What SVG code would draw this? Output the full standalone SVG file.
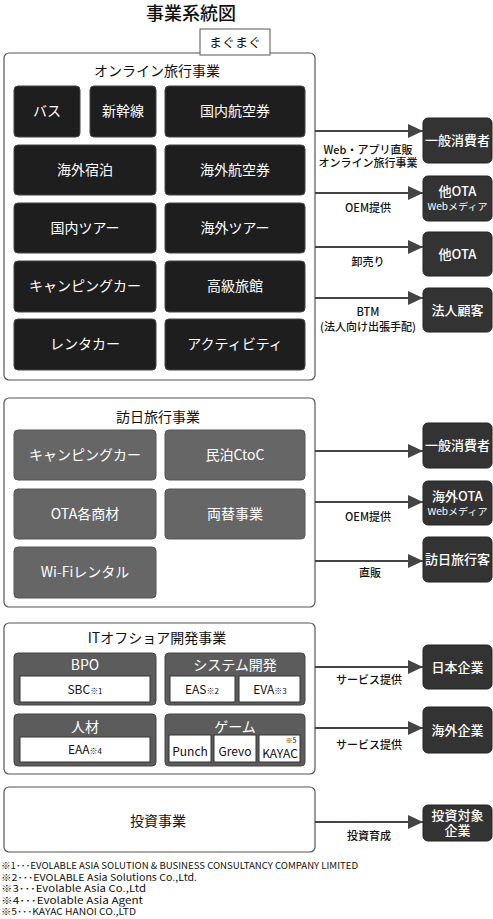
<svg xmlns="http://www.w3.org/2000/svg" width="493" height="919" viewBox="0 0 493 919">
<defs>
<style>
text{font-family:"Noto Sans CJK JP","Noto Sans",sans-serif;}
.sec{fill:#fff;stroke:#555;stroke-width:1.2;}
.dk{fill:#1e1e1e;stroke:#444;stroke-width:1;}
.gr{fill:#666;stroke:#555;stroke-width:1;}
.it{fill:#5c5c5c;stroke:#444;stroke-width:1;}
.wb{fill:#fff;stroke:#333;stroke-width:1;}
.nd{fill:#333;stroke:#222;stroke-width:1;}
.bt{fill:#fff;font-size:14px;text-anchor:middle;}
.nt{fill:#fff;font-size:13px;text-anchor:middle;font-weight:500;}
.ns{fill:#fff;font-size:9.5px;text-anchor:middle;font-weight:400;}
.st{fill:#111;font-size:14px;text-anchor:middle;}
.lb{fill:#111;font-size:11px;text-anchor:middle;font-weight:500;}
.it-t{fill:#111;font-size:12px;text-anchor:middle;}
.fn{fill:#111;font-size:9.5px;}
.cn{stroke:#444;stroke-width:2;fill:none;marker-end:url(#ah);}
</style>
<marker id="ah" markerUnits="userSpaceOnUse" markerWidth="15" markerHeight="14" refX="15" refY="7" orient="auto">
<path d="M0,0 L15,7 L0,14 z" fill="#444"/>
</marker>
</defs>
<rect width="493" height="919" fill="#fff"/>
<text x="191" y="20" font-size="18" text-anchor="middle" fill="#111" font-weight="500">事業系統図</text>

<g id="online">
<rect class="sec" x="4" y="53" width="311" height="327" rx="5"/>
<text class="st" x="157" y="76">オンライン旅行事業</text>
</g>
<g id="magumagu">
<rect x="200" y="29" width="70" height="26" fill="#fff" stroke="#555" stroke-width="1"/>
<text x="235" y="47" font-size="13" text-anchor="middle" fill="#111">まぐまぐ</text>
</g>
<g id="bus"><rect class="dk" x="14" y="86" width="66" height="51" rx="4"/><text class="bt" x="47" y="116">バス</text></g>
<g id="shinkansen"><rect class="dk" x="90" y="86" width="66" height="51" rx="4"/><text class="bt" x="123" y="116">新幹線</text></g>
<g id="domestic-air"><rect class="dk" x="165" y="86" width="140" height="51" rx="4"/><text class="bt" x="235" y="116">国内航空券</text></g>
<g id="overseas-hotel"><rect class="dk" x="14" y="145" width="142" height="50" rx="4"/><text class="bt" x="85" y="175">海外宿泊</text></g>
<g id="overseas-air"><rect class="dk" x="165" y="145" width="140" height="50" rx="4"/><text class="bt" x="235" y="175">海外航空券</text></g>
<g id="domestic-tour"><rect class="dk" x="14" y="203" width="142" height="50" rx="4"/><text class="bt" x="85" y="233">国内ツアー</text></g>
<g id="overseas-tour"><rect class="dk" x="165" y="203" width="140" height="50" rx="4"/><text class="bt" x="235" y="233">海外ツアー</text></g>
<g id="camping1"><rect class="dk" x="14" y="261" width="142" height="51" rx="4"/><text class="bt" x="85" y="291">キャンピングカー</text></g>
<g id="ryokan"><rect class="dk" x="165" y="261" width="140" height="51" rx="4"/><text class="bt" x="235" y="291">高級旅館</text></g>
<g id="rentacar"><rect class="dk" x="14" y="319" width="142" height="51" rx="4"/><text class="bt" x="85" y="349">レンタカー</text></g>
<g id="activity"><rect class="dk" x="165" y="319" width="140" height="51" rx="4"/><text class="bt" x="235" y="349">アクティビティ</text></g>

<g id="inbound">
<rect class="sec" x="4" y="398" width="311" height="209" rx="5"/>
<text class="st" x="158" y="422">訪日旅行事業</text>
</g>
<g id="camping2"><rect class="gr" x="14" y="430" width="142" height="50" rx="4"/><text class="bt" x="85" y="460">キャンピングカー</text></g>
<g id="minpaku"><rect class="gr" x="165" y="430" width="140" height="50" rx="4"/><text class="bt" x="235" y="460">民泊CtoC</text></g>
<g id="ota-goods"><rect class="gr" x="14" y="489" width="142" height="50" rx="4"/><text class="bt" x="85" y="519">OTA各商材</text></g>
<g id="exchange"><rect class="gr" x="165" y="489" width="140" height="50" rx="4"/><text class="bt" x="235" y="519">両替事業</text></g>
<g id="wifi"><rect class="gr" x="14" y="547" width="142" height="51" rx="4"/><text class="bt" x="85" y="577">Wi-Fiレンタル</text></g>

<g id="it">
<rect class="sec" x="4" y="623" width="311" height="151" rx="5"/>
<text class="st" x="157" y="643">ITオフショア開発事業</text>
</g>
<g id="bpo">
<rect class="it" x="14" y="653" width="142" height="52" rx="4"/>
<text class="bt" x="85" y="670" font-size="13">BPO</text>
<rect class="wb" x="20" y="676" width="130" height="26"/>
<text class="it-t" x="85" y="694">SBC<tspan font-size="8">※1</tspan></text>
</g>
<g id="sysdev">
<rect class="it" x="165" y="653" width="140" height="52" rx="4"/>
<text class="bt" x="235" y="670" font-size="14">システム開発</text>
<rect class="wb" x="170" y="676" width="65" height="26"/>
<text class="it-t" x="202" y="694">EAS<tspan font-size="8">※2</tspan></text>
<rect class="wb" x="239" y="676" width="61" height="26"/>
<text class="it-t" x="270" y="694">EVA<tspan font-size="8">※3</tspan></text>
</g>
<g id="jinzai">
<rect class="it" x="14" y="714" width="142" height="52" rx="4"/>
<text class="bt" x="85" y="732">人材</text>
<rect class="wb" x="20" y="737" width="130" height="25"/>
<text class="it-t" x="85" y="754">EAA<tspan font-size="8">※4</tspan></text>
</g>
<g id="game">
<rect class="it" x="165" y="714" width="140" height="52" rx="4"/>
<text class="bt" x="235" y="732">ゲーム</text>
<rect class="wb" x="169" y="735" width="42" height="27"/>
<text class="it-t" x="190" y="756" font-size="11">Punch</text>
<rect class="wb" x="214" y="735" width="42" height="27"/>
<text class="it-t" x="235" y="756" font-size="11">Grevo</text>
<rect class="wb" x="259" y="735" width="41" height="27"/>
<text class="it-t" x="280" y="758" font-size="11">KAYAC</text>
<text x="291" y="742.5" font-size="7" fill="#111" text-anchor="middle">※5</text>
</g>

<g id="invest">
<rect class="sec" x="4" y="787" width="311" height="65" rx="5"/>
<text class="st" x="158" y="826" font-size="15">投資事業</text>
</g>

<g id="n-consumer1"><rect class="nd" x="423" y="118" width="69" height="45" rx="5"/><text class="nt" x="457.5" y="145">一般消費者</text></g>
<g id="n-ota-web"><rect class="nd" x="423" y="176" width="69" height="45" rx="5"/><text class="nt" x="457.5" y="196" font-size="12">他OTA</text><text class="ns" x="457.5" y="210" textLength="60" lengthAdjust="spacingAndGlyphs">Webメディア</text></g>
<g id="n-ota"><rect class="nd" x="423" y="232" width="69" height="44" rx="5"/><text class="nt" x="457.5" y="259">他OTA</text></g>
<g id="n-corp"><rect class="nd" x="423" y="288" width="69" height="44" rx="5"/><text class="nt" x="457.5" y="315">法人顧客</text></g>
<g id="n-consumer2"><rect class="nd" x="423" y="423" width="69" height="45" rx="5"/><text class="nt" x="457.5" y="450">一般消費者</text></g>
<g id="n-overseas-ota"><rect class="nd" x="423" y="481" width="69" height="44" rx="5"/><text class="nt" x="457.5" y="501" font-size="12">海外OTA</text><text class="ns" x="457.5" y="515" textLength="60" lengthAdjust="spacingAndGlyphs">Webメディア</text></g>
<g id="n-inbound"><rect class="nd" x="423" y="537" width="69" height="45" rx="5"/><text class="nt" x="457.5" y="564">訪日旅行客</text></g>
<g id="n-jp-corp"><rect class="nd" x="423" y="645" width="69" height="44" rx="5"/><text class="nt" x="457.5" y="672">日本企業</text></g>
<g id="n-os-corp"><rect class="nd" x="423" y="707" width="69" height="46" rx="5"/><text class="nt" x="457.5" y="735">海外企業</text></g>
<g id="n-invest"><rect class="nd" x="423" y="805" width="69" height="36" rx="5"/><text class="nt" x="457.5" y="820">投資対象</text><text class="nt" x="457.5" y="835">企業</text></g>

<g id="connectors">
<path class="cn" d="M315,131 H423"/>
<path class="cn" d="M315,193 H423"/>
<path class="cn" d="M315,247 H423"/>
<path class="cn" d="M315,298 H423"/>
<path class="cn" d="M315,451 H423"/>
<path class="cn" d="M315,502 H423"/>
<path class="cn" d="M315,561 H423"/>
<path class="cn" d="M315,667 H423"/>
<path class="cn" d="M315,728 H423"/>
<path class="cn" d="M315,822 H423"/>
<text class="lb" x="368" y="154">Web・アプリ直販</text>
<text class="lb" x="368" y="167">オンライン旅行事業</text>
<text class="lb" x="368" y="212">OEM提供</text>
<text class="lb" x="368" y="266">卸売り</text>
<text class="lb" x="368" y="316">BTM</text>
<text class="lb" x="368" y="331">(法人向け出張手配)</text>
<text class="lb" x="368" y="521">OEM提供</text>
<text class="lb" x="370" y="577">直販</text>
<text class="lb" x="369" y="684">サービス提供</text>
<text class="lb" x="369" y="749">サービス提供</text>
<text class="lb" x="369" y="840">投資育成</text>
</g>

<g id="footnotes">
<text class="fn" x="1" y="869" textLength="357" lengthAdjust="spacingAndGlyphs">※1･･･EVOLABLE ASIA SOLUTION &amp; BUSINESS CONSULTANCY COMPANY LIMITED</text>
<text class="fn" x="1" y="880.5" textLength="196" lengthAdjust="spacingAndGlyphs">※2･･･EVOLABLE Asia Solutions Co.,Ltd.</text>
<text class="fn" x="1" y="892" textLength="145" lengthAdjust="spacingAndGlyphs">※3･･･Evolable Asia Co.,Ltd</text>
<text class="fn" x="1" y="903.5" textLength="142" lengthAdjust="spacingAndGlyphs">※4･･･Evolable Asia Agent</text>
<text class="fn" x="1" y="915" textLength="135" lengthAdjust="spacingAndGlyphs">※5･･･KAYAC HANOI CO.,LTD</text>
</g>
</svg>
